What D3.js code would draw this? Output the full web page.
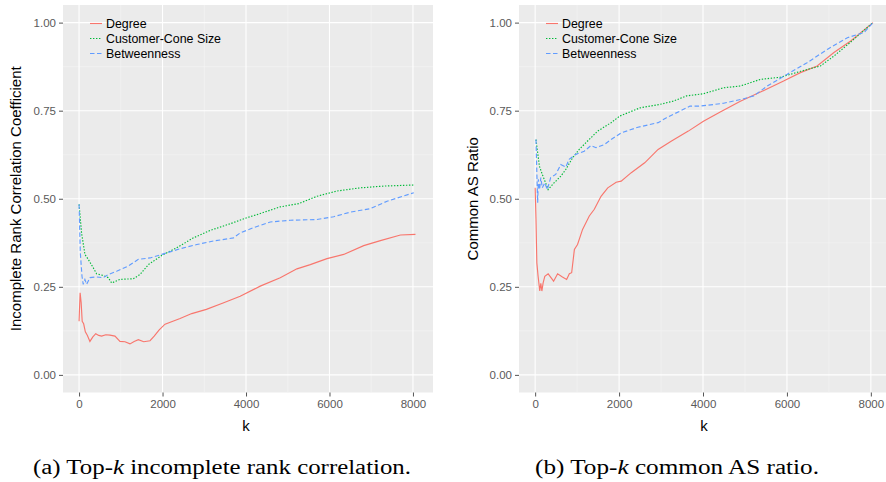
<!DOCTYPE html>
<html>
<head>
<meta charset="utf-8">
<script src="https://cdn.jsdelivr.net/npm/d3@7/dist/d3.min.js"></script>
<style>
  body { margin: 0; background: #fff; }
  svg { display: block; }
  .tick text { font-family: "Liberation Sans", Arial, sans-serif; font-size: 11.5px; fill: #5a5a5a; }
  .tick line { stroke: #555; }
</style>
</head>
<body>
<svg id="chart" width="886" height="482"></svg>
<script>
// ---- data ----
const seriesNames = ["Degree", "Customer-Cone Size", "Betweenness"];
const xTicks = [0, 2000, 4000, 6000, 8000];
const yTicks = [0, 0.25, 0.5, 0.75, 1];

// (a) incomplete rank correlation
const rankDegreeK = [0, 25, 50, 75, 110, 150, 200, 260, 330, 400, 470, 540, 640, 740, 860, 980, 1100, 1220, 1320, 1420, 1550, 1700, 1800, 1920, 2060, 2420, 2700, 3050, 3450, 3860, 4340, 4820, 5220, 5540, 5940, 6340, 6820, 7220, 7700, 8060];
const rankDegree = [0.152, 0.233, 0.205, 0.152, 0.145, 0.122, 0.112, 0.095, 0.108, 0.117, 0.112, 0.110, 0.114, 0.113, 0.110, 0.095, 0.094, 0.088, 0.095, 0.100, 0.094, 0.097, 0.110, 0.128, 0.144, 0.160, 0.174, 0.186, 0.204, 0.223, 0.252, 0.276, 0.301, 0.313, 0.330, 0.342, 0.367, 0.381, 0.397, 0.399];
const rankConeK = [0, 60, 140, 220, 340, 420, 580, 700, 780, 980, 1300, 1460, 1660, 1980, 2340, 2740, 3140, 3620, 4020, 4340, 4820, 5260, 5700, 6180, 6740, 7300, 8020];
const rankCone = [0.484, 0.403, 0.342, 0.328, 0.304, 0.287, 0.282, 0.276, 0.261, 0.271, 0.273, 0.285, 0.313, 0.339, 0.361, 0.389, 0.410, 0.429, 0.446, 0.458, 0.477, 0.486, 0.507, 0.522, 0.531, 0.536, 0.539];
const rankBetwK = [0, 30, 70, 100, 140, 180, 260, 420, 580, 700, 900, 1180, 1420, 1700, 1980, 2420, 2820, 3220, 3700, 3860, 4180, 4580, 5060, 5700, 6100, 6500, 6980, 7380, 8020];
const rankBetw = [0.484, 0.347, 0.280, 0.257, 0.271, 0.257, 0.276, 0.278, 0.276, 0.285, 0.294, 0.309, 0.328, 0.332, 0.342, 0.358, 0.370, 0.380, 0.389, 0.403, 0.418, 0.434, 0.439, 0.441, 0.449, 0.462, 0.472, 0.493, 0.517];

// (b) common AS ratio
const commonDegreeK = [0, 20, 40, 70, 110, 135, 160, 190, 230, 310, 440, 535, 650, 750, 815, 870, 935, 1010, 1130, 1290, 1410, 1570, 1730, 1930, 2050, 2290, 2610, 2930, 3250, 3650, 4010, 4410, 4890, 5370, 5920, 6320, 6720, 7120, 7520, 8050];
const commonDegree = [0.531, 0.441, 0.318, 0.280, 0.238, 0.260, 0.238, 0.261, 0.280, 0.287, 0.266, 0.287, 0.278, 0.271, 0.287, 0.290, 0.356, 0.370, 0.413, 0.451, 0.470, 0.507, 0.531, 0.547, 0.550, 0.574, 0.602, 0.640, 0.664, 0.692, 0.720, 0.746, 0.777, 0.803, 0.834, 0.858, 0.877, 0.915, 0.948, 1.000];
const commonConeK = [20, 60, 100, 170, 250, 310, 450, 610, 730, 890, 1050, 1250, 1490, 1810, 2020, 2500, 2975, 3290, 3610, 4010, 4490, 4890, 5370, 5850, 6330, 6800, 7120, 7520, 8050];
const commonCone = [0.668, 0.631, 0.593, 0.569, 0.545, 0.526, 0.545, 0.564, 0.583, 0.616, 0.640, 0.664, 0.692, 0.716, 0.735, 0.758, 0.768, 0.777, 0.792, 0.798, 0.815, 0.820, 0.839, 0.845, 0.862, 0.877, 0.905, 0.945, 1.000];
const commonBetwK = [20, 40, 60, 75, 105, 135, 170, 230, 290, 370, 490, 610, 730, 810, 970, 1170, 1330, 1450, 1650, 1810, 2050, 2450, 2930, 3130, 3690, 3930, 4490, 4970, 5210, 5530, 6000, 6480, 6960, 7440, 7840, 8050];
const commonBetw = [0.668, 0.574, 0.489, 0.555, 0.526, 0.560, 0.531, 0.545, 0.526, 0.560, 0.569, 0.597, 0.590, 0.612, 0.626, 0.635, 0.651, 0.645, 0.654, 0.668, 0.687, 0.703, 0.716, 0.730, 0.763, 0.763, 0.771, 0.784, 0.792, 0.820, 0.853, 0.886, 0.924, 0.957, 0.972, 1.000];

// ---- layout ----
const COLORS = ["#F8766D", "#00BA38", "#619CFF"];
const DASHES = [null, "1.4,1.6", "4.5,2.5"];
const FONT = '"Liberation Sans", Arial, sans-serif';
const PANEL_TOP = 5, PANEL_BOTTOM = 392.5;

const panels = [
  {
    left: 63, right: 433, kX: 246,
    yTitle: "Incomplete Rank Correlation Coefficient", yTitleX: 16,
    caption: ["(a) Top-", "k", " incomplete rank correlation."], captionX: 222, captionW: 378,
    series: [[rankDegreeK, rankDegree], [rankConeK, rankCone], [rankBetwK, rankBetw]]
  },
  {
    left: 519, right: 891, kX: 704,
    yTitle: "Common AS Ratio", yTitleX: 473,
    caption: ["(b) Top-", "k", " common AS ratio."], captionX: 677, captionW: 284,
    series: [[commonDegreeK, commonDegree], [commonConeK, commonCone], [commonBetwK, commonBetw]]
  }
];

const svg = d3.select("#chart");

const drawPanel = function(p) {
  const x = d3.scaleLinear().domain([-385, 8480]).range([p.left, p.right]);
  const y = d3.scaleLinear().domain([-0.05, 1.05]).range([PANEL_BOTTOM, PANEL_TOP]);

  const g = svg.append("g");

  g.append("rect")
    .attr("x", p.left).attr("y", PANEL_TOP)
    .attr("width", p.right - p.left).attr("height", PANEL_BOTTOM - PANEL_TOP)
    .attr("fill", "#EBEBEB");

  // minor grid
  g.selectAll(".vminor").data([1000, 3000, 5000, 7000]).enter().append("line")
    .attr("x1", d => x(d)).attr("x2", d => x(d))
    .attr("y1", PANEL_TOP).attr("y2", PANEL_BOTTOM)
    .attr("stroke", "#F5F5F5").attr("stroke-width", 0.6);
  g.selectAll(".hminor").data([0.125, 0.375, 0.625, 0.875]).enter().append("line")
    .attr("x1", p.left).attr("x2", p.right)
    .attr("y1", d => y(d)).attr("y2", d => y(d))
    .attr("stroke", "#F5F5F5").attr("stroke-width", 0.6);

  // major grid
  g.selectAll(".vmajor").data(xTicks).enter().append("line")
    .attr("x1", d => x(d)).attr("x2", d => x(d))
    .attr("y1", PANEL_TOP).attr("y2", PANEL_BOTTOM)
    .attr("stroke", "#fff").attr("stroke-width", 1.1);
  g.selectAll(".hmajor").data(yTicks).enter().append("line")
    .attr("x1", p.left).attr("x2", p.right)
    .attr("y1", d => y(d)).attr("y2", d => y(d))
    .attr("stroke", "#fff").attr("stroke-width", 1.1);

  // lines
  const line = d3.line().x(d => x(d[0])).y(d => y(d[1]));
  p.series.forEach(([ks, vs], i) => {
    g.append("path")
      .datum(ks.map((k, j) => [k, vs[j]]))
      .attr("d", line)
      .attr("fill", "none")
      .attr("stroke", COLORS[i])
      .attr("stroke-width", 1.15)
      .attr("stroke-dasharray", DASHES[i]);
  });

  // legend
  const lg = g.append("g").attr("transform", `translate(${p.left + 27},23.5)`);
  seriesNames.forEach((name, i) => {
    lg.append("line")
      .attr("x1", 0).attr("x2", 12)
      .attr("y1", i * 15).attr("y2", i * 15)
      .attr("stroke", COLORS[i]).attr("stroke-width", 1.1)
      .attr("stroke-dasharray", DASHES[i]);
    lg.append("text")
      .attr("x", 16).attr("y", i * 15 + 4.5)
      .attr("font-family", FONT).attr("font-size", 12.4)
      .attr("fill", "#000")
      .text(name);
  });

  // axes
  const yAxis = d3.axisLeft(y).tickValues(yTicks).tickFormat(d3.format(".2f")).tickSize(4).tickPadding(3);
  g.append("g")
    .attr("transform", `translate(${p.left},0)`)
    .call(yAxis)
    .call(a => a.select(".domain").remove());

  const xAxis = d3.axisBottom(x).tickValues(xTicks).tickFormat(d3.format("d")).tickSize(4).tickPadding(3);
  g.append("g")
    .attr("transform", `translate(0,${PANEL_BOTTOM})`)
    .call(xAxis)
    .call(a => a.select(".domain").remove());

  // titles
  g.append("text")
    .attr("x", p.kX)
    .attr("y", 431)
    .attr("text-anchor", "middle")
    .attr("font-family", FONT).attr("font-size", 15)
    .text("k");

  g.append("text")
    .attr("transform", `translate(${p.yTitleX},${(PANEL_TOP + PANEL_BOTTOM) / 2}) rotate(-90)`)
    .attr("text-anchor", "middle")
    .attr("dy", "0.35em")
    .attr("font-family", FONT).attr("font-size", 15)
    .text(p.yTitle);

  // caption
  const cap = g.append("text")
    .attr("x", p.captionX).attr("y", 474)
    .attr("text-anchor", "middle")
    .attr("font-family", '"Liberation Serif", "DejaVu Serif", serif')
    .attr("font-size", 20)
    .attr("textLength", p.captionW)
    .attr("lengthAdjust", "spacingAndGlyphs")
    .attr("fill", "#000");
  p.caption.forEach((part, i) => {
    cap.append("tspan")
      .attr("font-style", i === 1 ? "italic" : null)
      .text(part);
  });
};

panels.forEach(drawPanel);
</script>
</body>
</html>
